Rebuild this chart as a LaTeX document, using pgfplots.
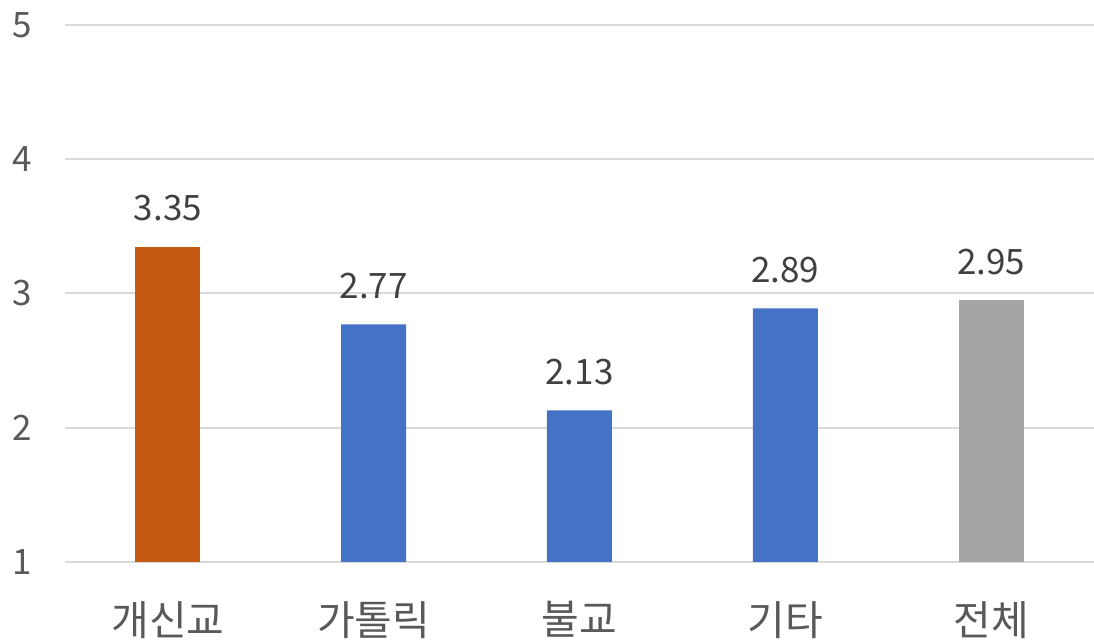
\documentclass[border=0pt]{standalone}
\usepackage{fontspec}
\setmainfont{Noto Sans CJK KR}
\usepackage{pgfplots}
\pgfplotsset{compat=1.18}
\definecolor{cOrange}{HTML}{C55A11}
\definecolor{cBlue}{HTML}{4472C4}
\definecolor{cGray}{HTML}{A5A5A5}
\definecolor{cGrid}{HTML}{D9D9D9}
\definecolor{cTick}{HTML}{595959}
\definecolor{cLabel}{HTML}{404040}

\begin{document}
\begin{tikzpicture}
\useasboundingbox (-32.5pt,-40pt) rectangle (514.5pt,281pt);
\begin{axis}[
    scale only axis,
    width=514.5pt, height=268.5pt,
    xmin=-0.5, xmax=4.5, ymin=1, ymax=5,
    xtick={0,1,2,3,4},
    xticklabels={개신교,가톨릭,불교,기타,전체},
    ytick={1,2,3,4,5},
    ymajorgrids, grid style={cGrid, line width=1pt},
    axis line style={draw=none},
    tick style={draw=none},
    ticklabel style={font=\fontsize{17.5}{20}\selectfont, text=cTick},
    yticklabel style={xshift=-13pt},
    xticklabel style={font=\fontsize{20.5}{23}\selectfont, yshift=-12pt},
    /pgf/number format/assume math mode=true,
    ybar, bar width=32.5pt, bar shift=0pt,
    nodes near coords,
    nodes near coords style={font=\fontsize{17.5}{20}\selectfont, text=cLabel, anchor=south, yshift=9pt,
        /pgf/number format/.cd, fixed, fixed zerofill, precision=2},
]
\addplot[fill=cOrange, draw=none] coordinates {(0,3.35)};
\addplot[fill=cBlue, draw=none] coordinates {(1,2.77) (2,2.13) (3,2.89)};
\addplot[fill=cGray, draw=none] coordinates {(4,2.95)};
\end{axis}
\end{tikzpicture}
\end{document}
